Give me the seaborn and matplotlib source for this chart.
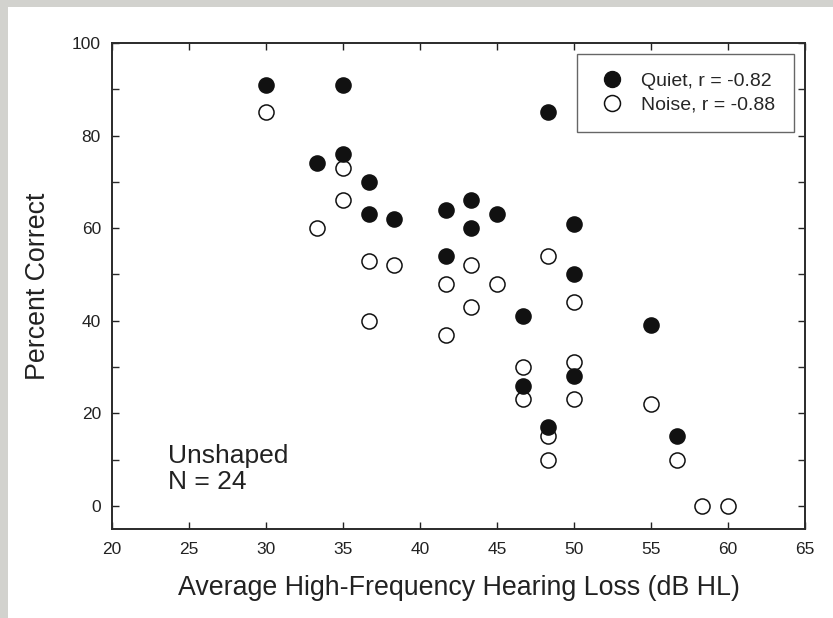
import numpy as np
import pandas as pd
import seaborn as sns
import matplotlib.pyplot as plt
from matplotlib.patches import Rectangle
from matplotlib.lines import Line2D

# hearing loss (dB HL) and percent correct
quiet_hl = [30, 35, 33.3, 35, 36.7, 36.7, 38.3, 41.7, 41.7, 43.3, 43.3, 45,
            48.3, 50, 50, 46.7, 55, 46.7, 50, 48.3, 56.7]
quiet_pc = [91, 91, 74, 76, 70, 63, 62, 64, 54, 66, 60, 63,
            85, 61, 50, 41, 39, 26, 28, 17, 15]

noise_hl = [30, 35, 35, 33.3, 36.7, 38.3, 36.7, 41.7, 41.7, 43.3, 43.3, 45,
            48.3, 50, 46.7, 46.7, 50, 50, 48.3, 48.3, 55, 56.7, 58.3, 60]
noise_pc = [85, 73, 66, 60, 53, 52, 40, 48, 37, 52, 43, 48,
            54, 44, 30, 23, 31, 23, 15, 10, 22, 10, 0, 0]

legend_labels = ['Quiet, r = -0.82', 'Noise, r = -0.88']

sns.set_style('ticks')
plt.rcParams['font.family'] = ['Liberation Sans', 'DejaVu Sans']

quiet = pd.DataFrame({'hl': quiet_hl, 'pc': quiet_pc})
noise = pd.DataFrame({'hl': noise_hl, 'pc': noise_pc})

fig = plt.figure(figsize=(8.33, 6.18), dpi=100, facecolor='#d2d2ce')
# white page with a thin grey margin on top and left
bg = Rectangle((8 / 833, 0), 1, 1 - 7 / 618, transform=fig.transFigure,
               facecolor='white', edgecolor='none', zorder=-10)
fig.add_artist(bg)
ax = fig.add_axes([112 / 833, 1 - 529 / 618, 693 / 833, 486 / 618])
ax.set_zorder(1)

sns.scatterplot(data=noise, x='hl', y='pc', ax=ax, s=118, marker='o',
                facecolor='white', edgecolor='#111111', linewidth=1.1, zorder=3)
sns.scatterplot(data=quiet, x='hl', y='pc', ax=ax, s=118, marker='o',
                color='#111111', edgecolor='#111111', linewidth=1.1, zorder=4)

ax.set_xlim(20, 65)
ax.set_ylim(-5, 100)
ax.set_xticks(np.arange(20, 66, 5))
ax.set_yticks(np.arange(0, 101, 20))
ax.set_yticks(np.arange(10, 100, 20), minor=True)

for sp in ax.spines.values():
    sp.set_visible(True)
    sp.set_linewidth(1.4)
    sp.set_color('#2a2a2a')

ax.tick_params(which='both', direction='in', top=True, right=True, length=5,
               width=1, color='#2a2a2a')
ax.tick_params(axis='x', labelsize=12.5, pad=9, colors='#222222')
ax.tick_params(axis='y', labelsize=12.5, pad=8, colors='#222222')

ax.set_xlabel('Average High-Frequency Hearing Loss (dB HL)', fontsize=19.3,
              labelpad=13, color='#222222')
ax.set_ylabel('Percent Correct', fontsize=19.3, labelpad=15, color='#222222')

ax.text(0.081, 0.174, 'Unshaped\nN = 24', transform=ax.transAxes, fontsize=19,
        va='top', ha='left', linespacing=1.1, color='#222222')

handles = [
    Line2D([], [], marker='o', linestyle='none', markersize=11.5,
           markerfacecolor='#111111', markeredgecolor='#111111'),
    Line2D([], [], marker='o', linestyle='none', markersize=11.5,
           markerfacecolor='white', markeredgecolor='#111111', markeredgewidth=1.1),
]
leg = ax.legend(handles, legend_labels, loc='upper right',
                bbox_to_anchor=(0.984, 0.977), borderaxespad=0, fontsize=14,
                frameon=True, fancybox=False, framealpha=1, edgecolor='#666666',
                handletextpad=0.65, borderpad=0.95, labelspacing=0.3,
                handlelength=1.7)
leg.get_frame().set_linewidth(1.0)

fig.savefig('out.png', dpi=100, facecolor=fig.get_facecolor())
